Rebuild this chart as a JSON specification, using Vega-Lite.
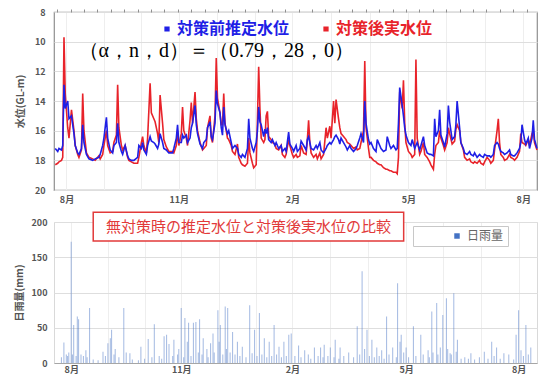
{
"$schema": "https://vega.github.io/schema/vega-lite/v6.json",
"background": "white",
"padding": {"left": 13, "top": 7, "right": 0, "bottom": 0},
"bounds": "flush",
"spacing": 32,
"config": {"font": "Noto Sans CJK JP", "axis": {"labelFont": "Noto Sans CJK JP", "titleFont": "Noto Sans CJK JP", "labelOverlap": false}, "legend": {"labelFont": "Noto Sans CJK JP"}},
"vconcat": [
{
"width": 483, "height": 178,
"view": {"stroke": "#8f8f8f", "strokeWidth": 1.2},
"data": {"values": [
{"day":-9,"before":17.2,"after":18.3},{"day":-7,"before":17.4,"after":18.2},{"day":-6,"before":17.2,"after":18.1},{"day":-4,"before":17.3,"after":18.0},{"day":-3,"before":17.0,"after":17.8},{"day":-2,"before":12.9,"after":9.7},{"day":-1,"before":14.5,"after":13.5},{"day":1,"before":14.0,"after":15.8},{"day":2,"before":15.2,"after":16.5},{"day":4,"before":15.0,"after":14.6},{"day":6,"before":16.2,"after":16.0},{"day":7,"before":17.0,"after":17.0},{"day":9,"before":17.5,"after":17.6},{"day":10,"before":17.6,"after":17.8},{"day":12,"before":17.2,"after":17.3},{"day":13,"before":15.6,"after":13.5},{"day":14,"before":16.8,"after":16.0},{"day":16,"before":17.6,"after":17.5},{"day":18,"before":17.9,"after":17.8},{"day":21,"before":18.0,"after":17.9},{"day":23,"before":17.9,"after":18.0},{"day":26,"before":17.8,"after":17.7},{"day":27,"before":17.6,"after":17.9},{"day":29,"before":17.0,"after":17.6},{"day":30,"before":16.5,"after":17.0},{"day":32,"before":15.1,"after":16.0},{"day":33,"before":16.5,"after":17.0},{"day":35,"before":17.3,"after":17.5},{"day":37,"before":17.5,"after":17.4},{"day":38,"before":17.0,"after":16.8},{"day":40,"before":16.8,"after":16.3},{"day":41,"before":15.5,"after":12.9},{"day":42,"before":16.8,"after":15.8},{"day":44,"before":17.4,"after":17.0},{"day":45,"before":17.6,"after":17.3},{"day":47,"before":17.0,"after":17.0},{"day":49,"before":17.7,"after":17.8},{"day":50,"before":17.9,"after":18.0},{"day":52,"before":18.0,"after":18.1},{"day":54,"before":18.0,"after":18.2},{"day":57,"before":17.8,"after":18.2},{"day":58,"before":17.0,"after":17.8},{"day":60,"before":17.2,"after":16.8},{"day":61,"before":16.8,"after":16.4},{"day":62,"before":17.3,"after":17.0},{"day":64,"before":17.6,"after":17.5},{"day":65,"before":17.0,"after":16.5},{"day":67,"before":16.4,"after":12.8},{"day":68,"before":16.7,"after":14.8},{"day":70,"before":16.8,"after":15.2},{"day":71,"before":16.9,"after":15.4},{"day":73,"before":17.2,"after":16.2},{"day":74,"before":16.9,"after":16.8},{"day":75,"before":16.2,"after":13.6},{"day":77,"before":16.8,"after":15.5},{"day":78,"before":17.2,"after":16.6},{"day":80,"before":17.3,"after":17.1},{"day":82,"before":17.5,"after":17.4},{"day":85,"before":17.5,"after":17.4},{"day":86,"before":17.2,"after":17.5},{"day":88,"before":16.5,"after":17.0},{"day":89,"before":15.6,"after":16.0},{"day":90,"before":16.8,"after":17.0},{"day":92,"before":16.8,"after":16.2},{"day":93,"before":16.3,"after":14.4},{"day":94,"before":16.5,"after":16.0},{"day":96,"before":16.3,"after":16.5},{"day":97,"before":16.8,"after":17.0},{"day":99,"before":16.5,"after":15.3},{"day":100,"before":15.8,"after":14.1},{"day":101,"before":15.5,"after":15.5},{"day":103,"before":14.3,"after":13.4},{"day":104,"before":15.6,"after":15.2},{"day":105,"before":16.2,"after":16.0},{"day":107,"before":16.9,"after":16.8},{"day":109,"before":17.2,"after":17.3},{"day":110,"before":16.8,"after":17.2},{"day":112,"before":16.6,"after":17.0},{"day":113,"before":15.8,"after":15.8},{"day":115,"before":15.4,"after":15.0},{"day":116,"before":16.4,"after":16.5},{"day":117,"before":16.6,"after":16.8},{"day":119,"before":15.5,"after":15.0},{"day":120,"before":13.3,"after":11.1},{"day":121,"before":14.2,"after":13.8},{"day":123,"before":14.8,"after":14.8},{"day":124,"before":15.8,"after":15.6},{"day":125,"before":16.3,"after":15.6},{"day":126,"before":14.4,"after":13.5},{"day":127,"before":15.6,"after":15.5},{"day":129,"before":16.2,"after":16.5},{"day":130,"before":16.0,"after":16.6},{"day":132,"before":16.8,"after":17.0},{"day":133,"before":17.2,"after":17.4},{"day":135,"before":17.0,"after":17.6},{"day":137,"before":17.2,"after":16.9},{"day":138,"before":17.6,"after":17.8},{"day":140,"before":17.8,"after":18.2},{"day":141,"before":17.6,"after":18.3},{"day":143,"before":17.8,"after":18.4},{"day":145,"before":17.2,"after":18.2},{"day":146,"before":15.2,"after":16.5},{"day":147,"before":16.5,"after":17.5},{"day":149,"before":17.2,"after":18.2},{"day":150,"before":17.4,"after":18.5},{"day":152,"before":16.8,"after":18.3},{"day":153,"before":16.0,"after":15.3},{"day":154,"before":14.4,"after":11.7},{"day":155,"before":15.4,"after":14.5},{"day":156,"before":15.6,"after":16.5},{"day":158,"before":16.4,"after":16.8},{"day":159,"before":15.9,"after":16.6},{"day":160,"before":16.2,"after":15.0},{"day":161,"before":15.8,"after":14.7},{"day":162,"before":16.6,"after":16.4},{"day":164,"before":16.8,"after":16.6},{"day":165,"before":16.6,"after":16.8},{"day":167,"before":17.0,"after":16.9},{"day":168,"before":16.8,"after":17.2},{"day":170,"before":17.2,"after":17.3},{"day":172,"before":17.0,"after":17.0},{"day":173,"before":17.4,"after":17.6},{"day":175,"before":17.2,"after":17.8},{"day":176,"before":17.4,"after":17.6},{"day":178,"before":16.1,"after":16.6},{"day":179,"before":16.9,"after":17.0},{"day":181,"before":17.2,"after":17.6},{"day":182,"before":17.4,"after":17.8},{"day":184,"before":17.0,"after":17.6},{"day":185,"before":17.4,"after":17.8},{"day":187,"before":17.2,"after":17.7},{"day":188,"before":16.7,"after":17.0},{"day":190,"before":17.0,"after":17.5},{"day":192,"before":17.3,"after":17.6},{"day":193,"before":16.6,"after":16.6},{"day":194,"before":16.4,"after":15.3},{"day":195,"before":16.8,"after":16.8},{"day":196,"before":17.2,"after":17.5},{"day":198,"before":17.3,"after":17.8},{"day":200,"before":17.0,"after":17.6},{"day":201,"before":17.2,"after":17.9},{"day":203,"before":16.8,"after":17.5},{"day":204,"before":17.3,"after":17.9},{"day":206,"before":17.5,"after":17.6},{"day":208,"before":17.2,"after":15.8},{"day":209,"before":17.0,"after":16.5},{"day":211,"before":16.8,"after":15.7},{"day":212,"before":16.9,"after":16.5},{"day":214,"before":16.6,"after":14.0},{"day":215,"before":16.4,"after":15.5},{"day":216,"before":16.3,"after":13.9},{"day":218,"before":16.6,"after":15.2},{"day":219,"before":16.9,"after":15.8},{"day":220,"before":16.5,"after":16.2},{"day":222,"before":16.8,"after":16.4},{"day":224,"before":17.1,"after":16.6},{"day":225,"before":17.3,"after":16.8},{"day":227,"before":17.0,"after":16.9},{"day":228,"before":17.2,"after":17.0},{"day":230,"before":17.4,"after":17.2},{"day":232,"before":17.2,"after":17.1},{"day":233,"before":17.0,"after":17.3},{"day":235,"before":16.5,"after":17.2},{"day":236,"before":16.2,"after":16.8},{"day":238,"before":16.8,"after":16.0},{"day":239,"before":14.0,"after":11.3},{"day":240,"before":15.5,"after":15.8},{"day":242,"before":16.6,"after":17.2},{"day":243,"before":16.9,"after":17.8},{"day":244,"before":16.8,"after":17.8},{"day":246,"before":17.2,"after":18.0},{"day":248,"before":17.4,"after":18.1},{"day":249,"before":16.6,"after":18.2},{"day":251,"before":17.0,"after":18.3},{"day":252,"before":17.2,"after":18.3},{"day":254,"before":17.4,"after":18.5},{"day":256,"before":17.3,"after":18.6},{"day":257,"before":16.4,"after":18.6},{"day":259,"before":17.0,"after":18.7},{"day":260,"before":17.2,"after":18.7},{"day":262,"before":17.0,"after":18.8},{"day":264,"before":17.3,"after":18.8},{"day":265,"before":17.2,"after":18.9},{"day":266,"before":15.5,"after":17.8},{"day":267,"before":13.1,"after":13.4},{"day":269,"before":14.3,"after":14.5},{"day":270,"before":15.0,"after":12.6},{"day":271,"before":15.8,"after":15.5},{"day":272,"before":16.3,"after":16.8},{"day":274,"before":16.8,"after":17.4},{"day":276,"before":17.0,"after":17.6},{"day":277,"before":16.6,"after":17.8},{"day":279,"before":17.2,"after":17.6},{"day":280,"before":17.0,"after":11.2},{"day":281,"before":16.8,"after":16.5},{"day":283,"before":17.3,"after":17.6},{"day":284,"before":17.0,"after":17.4},{"day":286,"before":16.4,"after":16.8},{"day":287,"before":17.0,"after":17.6},{"day":289,"before":17.5,"after":17.8},{"day":291,"before":17.6,"after":18.1},{"day":292,"before":17.6,"after":18.3},{"day":294,"before":17.7,"after":18.6},{"day":295,"before":15.2,"after":17.6},{"day":296,"before":16.4,"after":17.0},{"day":298,"before":16.0,"after":16.8},{"day":299,"before":14.6,"after":16.0},{"day":300,"before":16.3,"after":16.5},{"day":302,"before":16.8,"after":17.0},{"day":303,"before":17.1,"after":17.3},{"day":305,"before":16.2,"after":16.8},{"day":306,"before":14.3,"after":15.8},{"day":307,"before":15.4,"after":16.2},{"day":309,"before":16.6,"after":16.9},{"day":311,"before":16.4,"after":16.7},{"day":312,"before":15.6,"after":15.9},{"day":313,"before":14.0,"after":15.6},{"day":315,"before":15.8,"after":16.0},{"day":316,"before":16.8,"after":16.8},{"day":318,"before":17.2,"after":17.3},{"day":319,"before":17.5,"after":17.8},{"day":321,"before":17.6,"after":18.0},{"day":323,"before":17.4,"after":17.9},{"day":324,"before":17.6,"after":18.1},{"day":326,"before":17.7,"after":18.2},{"day":327,"before":17.5,"after":18.1},{"day":329,"before":17.8,"after":18.2},{"day":331,"before":17.6,"after":18.0},{"day":332,"before":17.7,"after":18.2},{"day":334,"before":17.8,"after":18.3},{"day":335,"before":17.6,"after":18.1},{"day":337,"before":17.7,"after":17.8},{"day":339,"before":17.7,"after":18.0},{"day":340,"before":17.8,"after":18.2},{"day":342,"before":17.6,"after":18.0},{"day":343,"before":17.0,"after":17.3},{"day":345,"before":16.8,"after":16.0},{"day":346,"before":16.9,"after":15.2},{"day":347,"before":17.2,"after":16.8},{"day":348,"before":17.4,"after":17.6},{"day":350,"before":17.5,"after":17.8},{"day":351,"before":17.6,"after":18.0},{"day":353,"before":17.5,"after":17.9},{"day":355,"before":17.3,"after":17.6},{"day":356,"before":17.6,"after":17.8},{"day":358,"before":17.7,"after":17.9},{"day":359,"before":17.7,"after":18.0},{"day":361,"before":17.5,"after":17.8},{"day":363,"before":17.2,"after":17.4},{"day":364,"before":16.8,"after":16.2},{"day":365,"before":15.6,"after":16.8},{"day":367,"before":16.6,"after":16.9},{"day":368,"before":16.9,"after":17.0},{"day":370,"before":16.5,"after":16.6},{"day":371,"before":17.2,"after":17.0},{"day":373,"before":16.5,"after":16.2},{"day":374,"before":15.3,"after":16.0},{"day":375,"before":16.6,"after":16.8},{"day":377,"before":17.2,"after":17.3}
]},
"layer": [
{
"mark": {"type": "line", "strokeWidth": 1.6},
"encoding": {
"x": {"field": "day", "type": "quantitative", "scale": {"domain": [-10, 377], "nice": false, "zero": false},
 "axis": {"title": null, "values": [0,30,60,90,121,151,181,212,243,274,304,335,366], "labelExpr": "datum.value === 0 ? '8月' : datum.value === 90 ? '11月' : datum.value === 181 ? '2月' : datum.value === 274 ? '5月' : datum.value === 366 ? '8月' : ''", "labelOverlap": false, "ticks": false, "domain": false, "grid": true, "gridColor": "#eeeeee", "labelFontSize": 9, "labelFontWeight": "bold", "labelColor": "#555555", "labelPadding": 5}},
"y": {"field": "after", "type": "quantitative", "scale": {"domain": [8, 20], "reverse": true, "nice": false, "zero": false},
 "axis": {"title": "水位(GL-m)", "values": [8,10,12,14,16,18,20], "labelOverlap": false, "ticks": false, "domain": false, "grid": true, "gridColor": "#dedede", "labelFontSize": 9, "labelFontWeight": "bold", "labelColor": "#555555", "labelPadding": 9, "titleFontSize": 10, "titleColor": "#555555", "titleFontWeight": "bold", "titlePadding": 9}},
"stroke": {"datum": "対策後実水位", "type": "nominal", "scale": {"domain": ["対策前推定水位", "対策後実水位"], "range": ["#1f1fe6", "#e8232a"]},
 "legend": {"title": null, "orient": "none", "legendX": 105, "legendY": 9, "direction": "horizontal", "symbolType": "square", "symbolSize": 14, "labelFontSize": 16, "labelFontWeight": "bold", "columnPadding": 28, "labelOffset": 2, "padding": 0,
  "encode": {"labels": {"update": {"fill": {"signal": "datum.value === '対策前推定水位' ? '#1f1fe6' : '#e8232a'"}, "fontSize": {"value": 16}, "fontWeight": {"value": "bold"}}}, "symbols": {"update": {"fill": {"signal": "datum.value === '対策前推定水位' ? '#1f1fe6' : '#e8232a'"}, "stroke": {"value": "transparent"}}}}}}
}
},
{
"mark": {"type": "line", "strokeWidth": 1.6},
"encoding": {
"x": {"field": "day", "type": "quantitative", "axis": null},
"y": {"field": "before", "type": "quantitative",
 "axis": {"title": "水位(GL-m)", "values": [8,10,12,14,16,18,20], "labelOverlap": false, "ticks": false, "domain": false, "grid": true, "gridColor": "#dedede", "labelFontSize": 9, "labelFontWeight": "bold", "labelColor": "#555555", "labelPadding": 9, "titleFontSize": 10, "titleColor": "#555555", "titleFontWeight": "bold", "titlePadding": 9}},
"stroke": {"datum": "対策前推定水位", "type": "nominal"}
}
},
{
"mark": {"type": "line", "opacity": 0},
"encoding": {
"x": {"field": "day", "type": "quantitative", "axis": {"title": null, "values": [-7.5,3.25,14,24.75,35.5,46.25,57,67.75,78.5,89.25,100,110.75,121.5,132.25,143,153.75,164.5,175.25,186,196.75,207.5,218.25,229,239.75,250.5,261.25,272,282.75,293.5,304.25,315,325.75,336.5,347.25,358,368.75], "labels": false, "grid": false, "domain": false, "ticks": true, "tickSize": 3, "tickColor": "#8f8f8f"}},
"y": {"field": "before", "type": "quantitative",
 "axis": {"title": "水位(GL-m)", "values": [8,10,12,14,16,18,20], "labelOverlap": false, "ticks": false, "domain": false, "grid": true, "gridColor": "#dedede", "labelFontSize": 9, "labelFontWeight": "bold", "labelColor": "#555555", "labelPadding": 9, "titleFontSize": 10, "titleColor": "#555555", "titleFontWeight": "bold", "titlePadding": 9}}
}
},
{
"data": {"values": [{"label": "（α，n，d）＝（0.79，28，0）"}]},
"mark": {"type": "text", "font": "Liberation Serif", "fontSize": 20, "color": "black"},
"encoding": {
"x": {"datum": 120, "type": "quantitative", "axis": null},
"y": {"datum": 10.63, "type": "quantitative",
 "axis": {"title": "水位(GL-m)", "values": [8,10,12,14,16,18,20], "labelOverlap": false, "ticks": false, "domain": false, "grid": true, "gridColor": "#dedede", "labelFontSize": 9, "labelFontWeight": "bold", "labelColor": "#555555", "labelPadding": 9, "titleFontSize": 10, "titleColor": "#555555", "titleFontWeight": "bold", "titlePadding": 9}},
"text": {"field": "label"}
}
}
],
"resolve": {"axis": {"x": "independent"}}
},
{
"width": 483, "height": 141,
"view": {"stroke": "#d9d9d9"},
"layer": [
{
"data": {"values": [
{"day":-8,"rain":8},{"day":-6,"rain":29},{"day":-4,"rain":12},{"day":-3,"rain":10},{"day":-2,"rain":15},{"day":0,"rain":172},{"day":1,"rain":12},{"day":2,"rain":54},{"day":4,"rain":10},{"day":5,"rain":66},{"day":6,"rain":62},{"day":8,"rain":12},{"day":10,"rain":10},{"day":12,"rain":18},{"day":13,"rain":8},{"day":15,"rain":78},{"day":18,"rain":5},{"day":22,"rain":4},{"day":26,"rain":16},{"day":28,"rain":10},{"day":30,"rain":28},{"day":32,"rain":35},{"day":33,"rain":47},{"day":35,"rain":12},{"day":36,"rain":20},{"day":39,"rain":8},{"day":43,"rain":78},{"day":45,"rain":15},{"day":48,"rain":14},{"day":50,"rain":5},{"day":55,"rain":4},{"day":57,"rain":23},{"day":60,"rain":6},{"day":63,"rain":34},{"day":66,"rain":8},{"day":68,"rain":55},{"day":72,"rain":10},{"day":74,"rain":6},{"day":76,"rain":38},{"day":78,"rain":40},{"day":80,"rain":27},{"day":83,"rain":10},{"day":84,"rain":33},{"day":87,"rain":12},{"day":88,"rain":20},{"day":90,"rain":78},{"day":92,"rain":8},{"day":93,"rain":64},{"day":95,"rain":30},{"day":96,"rain":57},{"day":98,"rain":10},{"day":100,"rain":57},{"day":102,"rain":58},{"day":104,"rain":15},{"day":105,"rain":62},{"day":107,"rain":12},{"day":108,"rain":35},{"day":111,"rain":20},{"day":112,"rain":8},{"day":114,"rain":28},{"day":116,"rain":42},{"day":117,"rain":15},{"day":120,"rain":75},{"day":121,"rain":30},{"day":122,"rain":54},{"day":124,"rain":12},{"day":126,"rain":80},{"day":127,"rain":20},{"day":128,"rain":78},{"day":130,"rain":15},{"day":132,"rain":44},{"day":134,"rain":12},{"day":136,"rain":30},{"day":138,"rain":10},{"day":140,"rain":23},{"day":143,"rain":8},{"day":146,"rain":82},{"day":148,"rain":14},{"day":150,"rain":47},{"day":152,"rain":10},{"day":154,"rain":71},{"day":156,"rain":12},{"day":158,"rain":35},{"day":160,"rain":8},{"day":162,"rain":30},{"day":164,"rain":10},{"day":166,"rain":54},{"day":168,"rain":12},{"day":170,"rain":23},{"day":172,"rain":8},{"day":174,"rain":30},{"day":176,"rain":10},{"day":178,"rain":40},{"day":180,"rain":42},{"day":183,"rain":10},{"day":186,"rain":25},{"day":188,"rain":8},{"day":191,"rain":18},{"day":194,"rain":12},{"day":196,"rain":6},{"day":199,"rain":22},{"day":202,"rain":10},{"day":204,"rain":22},{"day":206,"rain":8},{"day":207,"rain":26},{"day":210,"rain":10},{"day":212,"rain":22},{"day":215,"rain":8},{"day":216,"rain":33},{"day":219,"rain":6},{"day":220,"rain":22},{"day":223,"rain":10},{"day":227,"rain":15},{"day":231,"rain":8},{"day":234,"rain":52},{"day":236,"rain":12},{"day":238,"rain":130},{"day":240,"rain":20},{"day":242,"rain":47},{"day":244,"rain":10},{"day":246,"rain":33},{"day":248,"rain":8},{"day":250,"rain":22},{"day":252,"rain":10},{"day":254,"rain":18},{"day":256,"rain":6},{"day":258,"rain":66},{"day":260,"rain":12},{"day":263,"rain":22},{"day":266,"rain":8},{"day":267,"rain":113},{"day":269,"rain":30},{"day":270,"rain":40},{"day":272,"rain":15},{"day":274,"rain":22},{"day":276,"rain":8},{"day":280,"rain":52},{"day":282,"rain":10},{"day":286,"rain":40},{"day":288,"rain":12},{"day":292,"rain":18},{"day":293,"rain":8},{"day":295,"rain":73},{"day":296,"rain":15},{"day":299,"rain":85},{"day":300,"rain":12},{"day":302,"rain":22},{"day":304,"rain":68},{"day":307,"rain":92},{"day":308,"rain":20},{"day":310,"rain":14},{"day":311,"rain":12},{"day":313,"rain":99},{"day":315,"rain":16},{"day":316,"rain":33},{"day":319,"rain":6},{"day":322,"rain":8},{"day":325,"rain":6},{"day":327,"rain":14},{"day":330,"rain":5},{"day":334,"rain":8},{"day":338,"rain":16},{"day":341,"rain":6},{"day":344,"rain":30},{"day":346,"rain":10},{"day":348,"rain":22},{"day":351,"rain":6},{"day":354,"rain":14},{"day":358,"rain":12},{"day":362,"rain":5},{"day":364,"rain":40},{"day":366,"rain":75},{"day":368,"rain":18},{"day":370,"rain":10},{"day":372,"rain":54},{"day":374,"rain":12},{"day":376,"rain":22}
]},
"mark": {"type": "bar", "width": 1.1, "opacity": 0.45},
"encoding": {
"x": {"field": "day", "type": "quantitative", "scale": {"domain": [-10, 377], "nice": false, "zero": false},
 "axis": {"title": null, "values": [0,30,60,90,121,151,181,212,243,274,304,335,366], "labelExpr": "datum.value === 0 ? '8月' : datum.value === 90 ? '11月' : datum.value === 181 ? '2月' : datum.value === 274 ? '5月' : datum.value === 366 ? '8月' : ''", "labelOverlap": false, "ticks": false, "domain": true, "domainColor": "#a6a6a6", "grid": true, "gridColor": "#eeeeee", "labelFontSize": 9, "labelFontWeight": "bold", "labelColor": "#555555", "labelPadding": 2}},
"y": {"field": "rain", "type": "quantitative", "scale": {"domain": [0, 200], "nice": false},
 "axis": {"title": "日雨量(mm)", "values": [0,50,100,150,200], "labelOverlap": false, "ticks": false, "domain": false, "grid": true, "gridColor": "#dedede", "labelFontSize": 9, "labelFontWeight": "bold", "labelColor": "#555555", "labelPadding": 7, "titleFontSize": 10, "titleColor": "#555555", "titleFontWeight": "bold", "titlePadding": 7}},
"fill": {"datum": "日雨量", "type": "nominal", "scale": {"range": ["#4472c4"]},
 "legend": {"title": null, "orient": "none", "legendX": 359, "legendY": 214, "symbolType": "square", "symbolSize": 30, "symbolOpacity": 1, "labelFontSize": 12, "labelColor": "#666666", "fillColor": "white", "strokeColor": "#c8c8c8", "padding": 4, "symbolOffset": 34}}
}
},
{
"data": {"values": [{"label": "無対策時の推定水位と対策後実水位の比較"}]},
"layer": [
{
"mark": {"type": "rect", "fill": "white", "stroke": "#e23a3a", "strokeWidth": 1.5},
"encoding": {
"x": {"datum": 18, "type": "quantitative",
 "axis": {"title": null, "values": [0,30,60,90,121,151,181,212,243,274,304,335,366], "labelExpr": "datum.value === 0 ? '8月' : datum.value === 90 ? '11月' : datum.value === 181 ? '2月' : datum.value === 274 ? '5月' : datum.value === 366 ? '8月' : ''", "labelOverlap": false, "ticks": false, "domain": true, "domainColor": "#a6a6a6", "grid": true, "gridColor": "#eeeeee", "labelFontSize": 9, "labelFontWeight": "bold", "labelColor": "#555555", "labelPadding": 2}},
"x2": {"datum": 272},
"y": {"datum": 214, "type": "quantitative",
 "axis": {"title": "日雨量(mm)", "values": [0,50,100,150,200], "labelOverlap": false, "ticks": false, "domain": false, "grid": true, "gridColor": "#dedede", "labelFontSize": 9, "labelFontWeight": "bold", "labelColor": "#555555", "labelPadding": 7, "titleFontSize": 10, "titleColor": "#555555", "titleFontWeight": "bold", "titlePadding": 7}},
"y2": {"datum": 173}
}
},
{
"mark": {"type": "text", "fontSize": 15, "color": "#e23a3a", "font": "Noto Sans CJK JP"},
"encoding": {
"x": {"datum": 145, "type": "quantitative",
 "axis": {"title": null, "values": [0,30,60,90,121,151,181,212,243,274,304,335,366], "labelExpr": "datum.value === 0 ? '8月' : datum.value === 90 ? '11月' : datum.value === 181 ? '2月' : datum.value === 274 ? '5月' : datum.value === 366 ? '8月' : ''", "labelOverlap": false, "ticks": false, "domain": true, "domainColor": "#a6a6a6", "grid": true, "gridColor": "#eeeeee", "labelFontSize": 9, "labelFontWeight": "bold", "labelColor": "#555555", "labelPadding": 2}},
"y": {"datum": 193.5, "type": "quantitative",
 "axis": {"title": "日雨量(mm)", "values": [0,50,100,150,200], "labelOverlap": false, "ticks": false, "domain": false, "grid": true, "gridColor": "#dedede", "labelFontSize": 9, "labelFontWeight": "bold", "labelColor": "#555555", "labelPadding": 7, "titleFontSize": 10, "titleColor": "#555555", "titleFontWeight": "bold", "titlePadding": 7}},
"text": {"field": "label"}
}
}
]
}
]
}
]
}
